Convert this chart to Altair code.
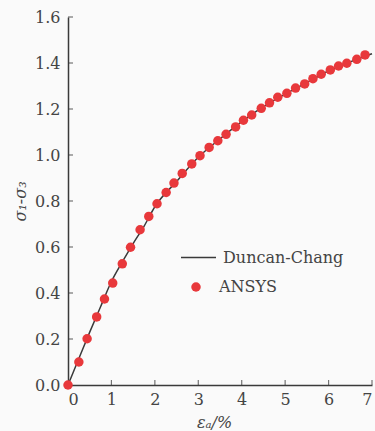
import altair as alt
import pandas as pd

# ANSYS points (strain %, deviator stress)
ansys_x = [0, 0.25, 0.44, 0.66, 0.84, 1.03, 1.25, 1.44, 1.66, 1.86, 2.05, 2.26, 2.44,
           2.63, 2.85, 3.04, 3.25, 3.45, 3.64, 3.86, 4.04, 4.23, 4.45, 4.64, 4.83,
           5.04, 5.24, 5.45, 5.64, 5.83, 6.04, 6.23, 6.42, 6.65, 6.84]
ansys_y = [0, 0.100, 0.201, 0.296, 0.374, 0.443, 0.527, 0.599, 0.675, 0.733, 0.788,
           0.837, 0.878, 0.920, 0.961, 0.997, 1.033, 1.062, 1.090, 1.122, 1.151,
           1.174, 1.203, 1.227, 1.251, 1.268, 1.291, 1.309, 1.332, 1.351, 1.370,
           1.387, 1.399, 1.416, 1.435]

# Duncan-Chang curve
dc_x = [0, 0.25, 0.5, 0.75, 1.0, 1.25, 1.5, 1.75, 2.0, 2.5, 3.0, 3.5, 4.0, 4.5,
        5.0, 5.5, 6.0, 6.5, 7.0]
dc_y = [0, 0.115, 0.23, 0.34, 0.45, 0.535, 0.615, 0.69, 0.775, 0.885, 0.99, 1.07,
        1.145, 1.21, 1.265, 1.315, 1.365, 1.405, 1.44]

x_ticks = [0, 1, 2, 3, 4, 5, 6, 7]
y_ticks = [0.0, 0.2, 0.4, 0.6, 0.8, 1.0, 1.2, 1.4, 1.6]

pts = pd.DataFrame({"x": ansys_x, "y": ansys_y, "s": "ANSYS"})
dc = pd.DataFrame({"x": dc_x, "y": dc_y, "s": "Duncan-Chang"})
xt = pd.DataFrame({"x": x_ticks[1:]})
yt = pd.DataFrame({"y": y_ticks[1:]})

FONT = "DejaVu Serif"
TXT = "#444444"
AX = "#3a3a3a"
RED = "#e8383b"

xs = alt.Scale(domain=[0, 7], nice=False, zero=False)
ys = alt.Scale(domain=[0, 1.6], nice=False, zero=False)

x_axis = alt.Axis(values=x_ticks, format="d", ticks=False, grid=False,
                  domainColor=AX, domainWidth=1.5, labelFont=FONT, labelFontSize=16,
                  labelColor=TXT, labelPadding=6, title="εₐ/%", titleFont=FONT,
                  titleFontSize=16, titleFontWeight="normal", titleFontStyle="italic",
                  titleColor=TXT, titlePadding=7, titleX=146)
y_axis = alt.Axis(values=y_ticks, format=".1f", ticks=False, grid=False,
                  domainColor=AX, domainWidth=1.5, labelFont=FONT, labelFontSize=16,
                  labelColor=TXT, labelPadding=8, title="σ₁-σ₃", titleFont=FONT,
                  titleFontSize=16, titleFontWeight="normal", titleFontStyle="italic",
                  titleColor=TXT, titlePadding=6)

line = alt.Chart(dc).mark_line(strokeWidth=1.5, interpolate="monotone").encode(
    x=alt.X("x:Q", scale=xs, axis=x_axis),
    y=alt.Y("y:Q", scale=ys, axis=y_axis),
    stroke=alt.Stroke("s:N", scale=alt.Scale(domain=["Duncan-Chang"], range=[AX]),
                      legend=alt.Legend(title=None, orient="none", legendX=112, legendY=222,
                                        symbolType="stroke", symbolSize=1225,
                                        symbolStrokeWidth=1.5, labelFont=FONT,
                                        labelFontSize=16, labelColor=TXT, labelOffset=6)),
)

points = alt.Chart(pts).mark_circle(size=90, opacity=1).encode(
    x="x:Q",
    y="y:Q",
    fill=alt.Fill("s:N", scale=alt.Scale(domain=["ANSYS"], range=[RED]),
                  legend=alt.Legend(title=None, orient="none", legendX=120, legendY=262,
                                    symbolType="circle", symbolSize=90,
                                    symbolStrokeWidth=0, labelFont=FONT,
                                    labelFontSize=16, labelColor=TXT, labelOffset=15)),
)

xticks = alt.Chart(xt).mark_tick(orient="vertical", size=5, thickness=1.2, color=AX).encode(
    x="x:Q", y=alt.value(365.5))
yticks = alt.Chart(yt).mark_tick(orient="horizontal", size=5, thickness=1.2, color=AX).encode(
    y="y:Q", x=alt.value(2.5))

chart = alt.layer(line, points, xticks, yticks).resolve_scale(
    stroke="independent", fill="independent"
).properties(
    width=304, height=368,
    autosize=alt.AutoSizeParams(type="none"),
    padding={"left": 68, "top": 17, "right": 3, "bottom": 46},
    background="#fafafa",
).configure_view(stroke=None)

chart.save("out.html", embed_options={"renderer": "svg", "actions": False})
